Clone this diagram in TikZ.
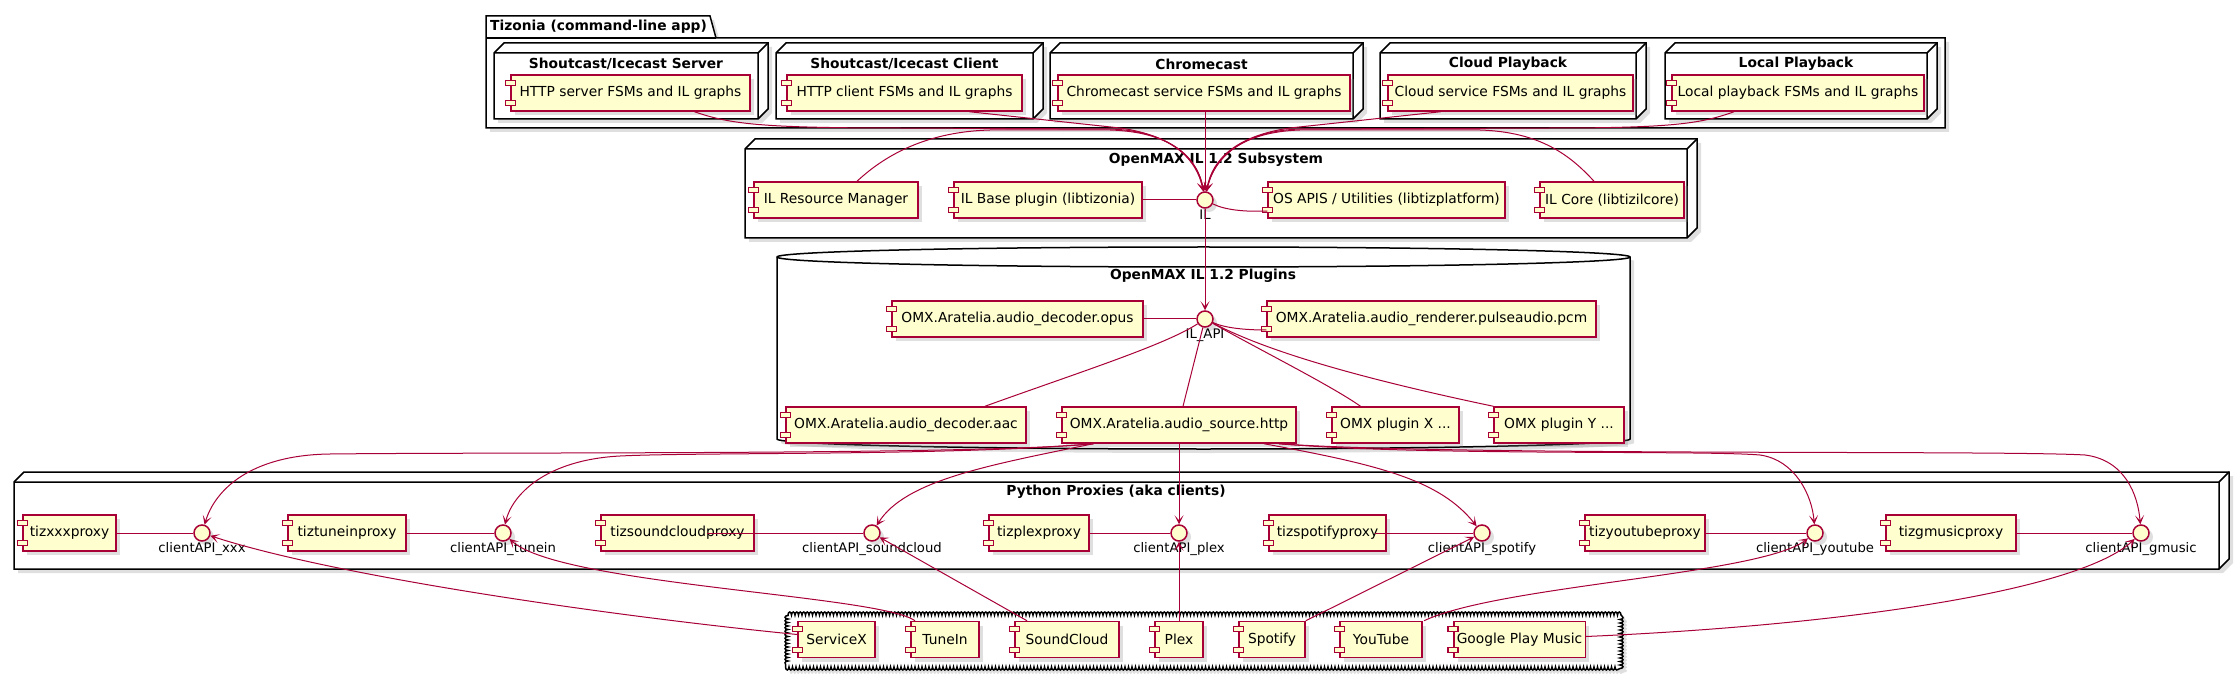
\documentclass[tikz,border=0pt]{standalone}
\usepackage{fontspec}
\setmainfont{DejaVu Sans}
\usetikzlibrary{arrows.meta,shadows,decorations.pathmorphing,positioning}

\definecolor{umlred}{HTML}{A80036}
\definecolor{umlfill}{HTML}{FEFECE}

\tikzset{
  shade3/.style={drop shadow={shadow xshift=4pt,shadow yshift=-4pt,opacity=.25}},
  comp/.style={draw=umlred, fill=umlfill, line width=1.5pt, minimum height=36pt,
    inner xsep=3pt, font=\fontsize{13.8}{16}\selectfont, shade3},
  tabbox/.style={draw=umlred, fill=umlfill, line width=1.2pt},
  iface/.style={circle, draw=umlred, fill=umlfill, line width=1.5pt, minimum size=16pt,
    inner sep=0pt, shade3, label distance=8pt},
  lbl/.style={font=\fontsize{13.2}{15}\selectfont, inner sep=1pt},
  ttl/.style={font=\bfseries\fontsize{13.8}{16}\selectfont, inner sep=0pt},
  frame/.style={draw=black, line width=1.5pt, fill=white, shade3},
  edge3d/.style={draw=black, line width=1.5pt},
  link/.style={draw=umlred, line width=1pt},
  dep/.style={link, -{Stealth[length=9pt,width=9pt,inset=5pt]}},
}

% 3d box: front face x1,y1,x2,y2
\newcommand{\nodebox}[4]{%
  \draw[frame] (#1,#2) -- ++(10,-10) -- (#3+10,#2-10) -- (#3+10,#4-10) -- (#3,#4) -- (#1,#4) -- cycle;
  \draw[edge3d] (#1,#2) -- (#3,#2) -- (#3,#4) (#3,#2) -- ++(10,-10);
}

\begin{document}
\begin{tikzpicture}[x=1pt,y=-1pt]
\useasboundingbox (0,0) rectangle (2238,676);

% containers
\draw[frame] (486,38) -- (486,16) -- (710,16) -- (716,38) -- (1945,38) -- (1945,128) -- (486,128) -- cycle;
\draw[edge3d] (486,38) -- (716,38);
\node[ttl, anchor=west] (tiztitle) at (490,27) {Tizonia (command-line app)};

\nodebox{494}{53}{758}{119}
\nodebox{776}{53}{1033}{119}
\nodebox{1050}{53}{1353}{119}
\nodebox{1380}{53}{1636}{119}
\nodebox{1665}{53}{1927}{119}
\node[ttl] (srvtitle) at (626,64) {Shoutcast/Icecast Server};
\node[ttl] (clititle) at (904.5,64) {Shoutcast/Icecast Client};
\node[ttl] (casttitle) at (1201.5,64) {Chromecast};
\node[ttl] (cloudtitle) at (1508,64) {Cloud Playback};
\node[ttl] (localtitle) at (1796,64) {Local Playback};

\nodebox{745}{149}{1687}{238}
\node[ttl] (subtitle) at (1216,160) {OpenMAX IL 1.2 Subsystem};

\draw[frame] (777,257) -- (777,439) arc[start angle=180,end angle=360,x radius=426.5pt,y radius=10pt]
  -- (1630,257) arc[start angle=0,end angle=180,x radius=426.5pt,y radius=10pt] -- cycle;
\draw[edge3d] (777,257) arc[start angle=180,end angle=360,x radius=426.5pt,y radius=10pt];
\node[ttl] (plugtitle) at (1203,276) {OpenMAX IL 1.2 Plugins};

\nodebox{14}{482}{2219}{569}
\node[ttl] (pytitle) at (1116,492) {Python Proxies (aka clients)};

\draw[frame, decorate, decoration={bumps, segment length=7pt, amplitude=3pt}]
  (788,615) -- (1620,615) -- (1620,667) -- (788,667) -- cycle;

% components
\node[comp, minimum width=239pt] (srvfsm) at (630.5,93) {HTTP server FSMs and IL graphs};
\node[comp, minimum width=235pt] (clifsm) at (904.5,93) {HTTP client FSMs and IL graphs};
\node[comp, minimum width=292pt] (castfsm) at (1204,93) {Chromecast service FSMs and IL graphs};
\node[comp, minimum width=245pt] (cloudfsm) at (1510.5,93) {Cloud service FSMs and IL graphs};
\node[comp, minimum width=252pt] (localfsm) at (1798,93) {Local playback FSMs and IL graphs};

\node[comp, minimum width=164pt] (ilrm) at (836,200) {IL Resource Manager};
\node[comp, minimum width=188pt] (ilbase) at (1048,200) {IL Base plugin (libtizonia)};
\node[iface, label={[lbl]below:IL}] (il) at (1205,200) {};
\node[comp, minimum width=237pt] (osapi) at (1386.5,200) {OS APIS / Utilities (libtizplatform)};
\node[comp, minimum width=144pt] (ilcore) at (1612,200) {IL Core (libtizilcore)};

\node[comp, minimum width=251pt] (opus) at (1017.5,319) {OMX.Aratelia.audio\_decoder.opus};
\node[iface, label={[lbl]below:IL\_API}] (ilapi) at (1205,319) {};
\node[comp, minimum width=329pt] (pcm) at (1431.5,319) {OMX.Aratelia.audio\_renderer.pulseaudio.pcm};
\node[comp, minimum width=240pt] (aac) at (906,425) {OMX.Aratelia.audio\_decoder.aac};
\node[comp, minimum width=234pt] (http) at (1179,425) {OMX.Aratelia.audio\_source.http};
\node[comp, minimum width=127pt] (plugx) at (1395.5,425) {OMX plugin X ...};
\node[comp, minimum width=130pt] (plugy) at (1559,425) {OMX plugin Y ...};

\node[comp, minimum width=93pt] (pxxx) at (69.5,533) {tizxxxproxy};
\node[iface, label={[lbl]below:clientAPI\_xxx}] (cxxx) at (202,533) {};
\node[comp, minimum width=118pt] (ptunein) at (347,533) {tiztuneinproxy};
\node[iface, label={[lbl]below:clientAPI\_tunein}] (ctunein) at (503,533) {};
\node[comp, minimum width=153pt] (psc) at (677.5,533) {tizsoundcloudproxy};
\node[iface, label={[lbl]below:clientAPI\_soundcloud}] (csc) at (872,533) {};
\node[comp, minimum width=100pt] (pplex) at (1039,533) {tizplexproxy};
\node[iface, label={[lbl]below:clientAPI\_plex}] (cplex) at (1179,533) {};
\node[comp, minimum width=117pt] (pspot) at (1327.5,533) {tizspotifyproxy};
\node[iface, label={[lbl]below:clientAPI\_spotify}] (cspot) at (1482,533) {};
\node[comp, minimum width=120pt] (pyt) at (1645,533) {tizyoutubeproxy};
\node[iface, label={[lbl]below:clientAPI\_youtube}] (cyt) at (1815,533) {};
\node[comp, minimum width=130pt] (pgm) at (1951,533) {tizgmusicproxy};
\node[iface, label={[lbl]below:clientAPI\_gmusic}] (cgm) at (2141,533) {};

\node[comp, minimum width=77pt] (sx) at (836.5,639.5) {ServiceX};
\node[comp, minimum width=68pt] (stunein) at (945,639.5) {TuneIn};
\node[comp, minimum width=104pt] (ssc) at (1067,639.5) {SoundCloud};
\node[comp, minimum width=48pt] (splex) at (1179,639.5) {Plex};
\node[comp, minimum width=66pt] (sspot) at (1272,639.5) {Spotify};
\node[comp, minimum width=82pt] (syt) at (1381,639.5) {YouTube};
\node[comp, minimum width=123pt] (sgpm) at (1519.5,639.5) {Google Play Music};

% component tabs
\foreach \c in {srvfsm,clifsm,castfsm,cloudfsm,localfsm,ilrm,ilbase,osapi,ilcore,
    opus,pcm,aac,http,plugx,plugy,pxxx,ptunein,psc,pplex,pspot,pyt,pgm,
    sx,stunein,ssc,splex,sspot,syt,sgpm}{
  \draw[tabbox] ([xshift=-5pt,yshift=-6pt]\c.north west) rectangle ++(10,5);
  \draw[tabbox] ([xshift=-5pt,yshift=6pt]\c.south west) rectangle ++(10,-5);
}

% Tizonia -> IL
\draw[dep] ([xshift=64pt]srvfsm.south) .. controls (730,124) and (760,128) .. (900,128)
  -- (1110,129) .. controls (1172,131) and (1197,160) .. (il);
\draw[dep] ([xshift=65pt]clifsm.south) -- (1120,128) .. controls (1175,136) and (1198,160) .. (il);
\draw[dep] (castfsm.south -| il) -- (il);
\draw[dep] ([xshift=-70pt]cloudfsm.south) -- (1290,128) .. controls (1235,136) and (1212,160) .. (il);
\draw[dep] ([xshift=-64pt]localfsm.south) .. controls (1700,124) and (1670,128) .. (1550,128)
  -- (1300,129) .. controls (1240,131) and (1213,160) .. (il);
\draw[link] ([xshift=21pt]ilrm.north) .. controls (880,160) and (920,132) .. (990,130)
  -- (1110,130) .. controls (1175,132) and (1199,160) .. (il);
\draw[link] ([xshift=-18pt]ilcore.north) .. controls (1570,155) and (1540,132) .. (1480,130)
  -- (1300,130) .. controls (1238,132) and (1212,160) .. (il);
\draw[link] (ilbase) -- (il);
\draw[link] (il) .. controls (1225,210) and (1245,212) .. ([yshift=-11pt]osapi.west);

% IL -> plugins
\draw[dep] (il) -- (ilapi);
\draw[link] (opus) -- (ilapi);
\draw[link] (ilapi) .. controls (1225,328) and (1245,330) .. ([yshift=-11pt]pcm.west);
\draw[link] (ilapi) .. controls (1165,345) and (1080,372) .. ([xshift=79pt]aac.north);
\draw[link] (ilapi) -- ([xshift=4pt]http.north);
\draw[link] (ilapi) .. controls (1260,350) and (1330,385) .. ([xshift=-35pt]plugx.north);
\draw[link] (ilapi) .. controls (1255,345) and (1330,372) .. (plugy.north west);

% http source -> client APIs
\draw[dep] ([xshift=32pt]http.south west) .. controls (980,455) and (500,452) .. (330,454)
  .. controls (250,455) and (215,490) .. (cxxx);
\draw[dep] ([xshift=32pt]http.south west) .. controls (950,456) and (700,452) .. (620,456)
  .. controls (545,460) and (512,495) .. (ctunein);
\draw[dep] ([xshift=32pt]http.south west) .. controls (990,465) and (905,480) .. (csc);
\draw[dep] (http.south) -- (cplex);
\draw[dep] ([xshift=85pt]http.south) .. controls (1380,465) and (1440,480) .. (cspot);
\draw[dep] ([xshift=100pt]http.south) .. controls (1420,456) and (1700,450) .. (1760,455)
  .. controls (1795,460) and (1812,495) .. (cyt);
\draw[dep] ([xshift=100pt]http.south) .. controls (1450,456) and (2000,450) .. (2085,455)
  .. controls (2125,460) and (2138,495) .. (cgm);

% proxies
\draw[link] (pxxx) -- (cxxx);
\draw[link] (ptunein) -- (ctunein);
\draw[link] ([xshift=-48pt]psc.east) -- (csc);
\draw[link] (pplex) -- (cplex);
\draw[link] ([xshift=-12pt]pspot.east) -- (cspot);
\draw[link] (pyt) -- (cyt);
\draw[link] (pgm) -- (cgm);

% services -> client APIs
\draw[dep] ([yshift=5pt]sx.west) .. controls (600,615) and (330,575) .. (cxxx);
\draw[dep] ([xshift=-30pt]stunein.north) .. controls (880,595) and (560,585) .. (ctunein);
\draw[dep] ([xshift=-40pt]ssc.north) -- (csc);
\draw[dep] (splex.north) -- (cplex);
\draw[dep] (sspot.north east) -- (cspot);
\draw[dep] ([xshift=43pt]syt.north) .. controls (1500,585) and (1760,575) .. (cyt);
\draw[dep] ([yshift=3pt]sgpm.east) .. controls (1850,625) and (2080,590) .. (cgm);
\end{tikzpicture}
\end{document}
